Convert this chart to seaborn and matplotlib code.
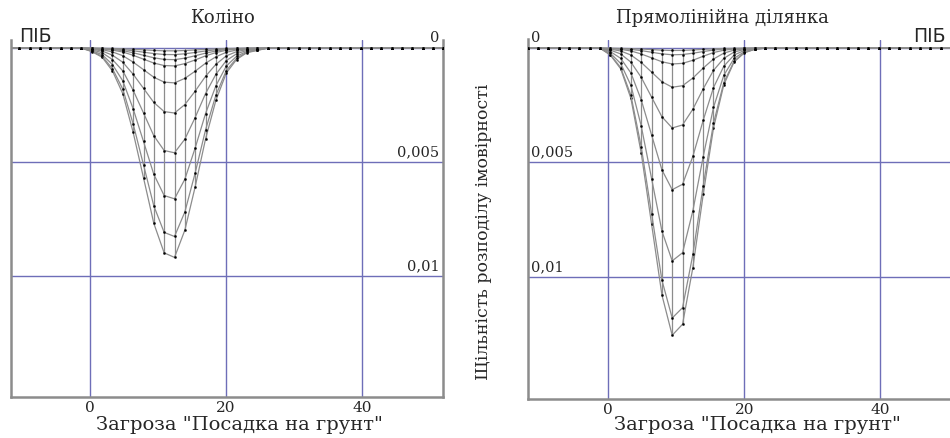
import matplotlib
matplotlib.use("Agg")
import matplotlib.pyplot as plt
import pandas as pd
import seaborn as sns

# mesh columns of the threat variable (Mathcad wireframe grid)
x_grid = [-11.84, -10.32, -8.80, -7.28, -5.77, -4.25, -2.73, -1.22,
          0.30, 1.82, 3.33, 4.85, 6.37, 7.89, 9.40, 10.92, 12.44, 13.96,
          15.47, 16.99, 18.51, 20.03, 21.54, 23.06, 24.58, 26.10, 27.61,
          29.13, 30.65, 32.17, 33.68, 35.20, 36.72, 38.24, 39.75, 41.27,
          42.79, 44.31, 45.82, 47.34, 48.86, 50.38, 51.89]

# depth of the deepest mesh curve, columns x = 0.30 ... 24.58 (zero elsewhere)
knee_profile = [0.00015, 0.0004, 0.0010, 0.0020, 0.0037, 0.0057, 0.0077, 0.0090,
                0.0092, 0.0080, 0.0061, 0.0040, 0.0023, 0.0011, 0.0005, 0.0002, 0.0001]
# relative depth of every mesh curve
knee_levels = [1.0, 0.90, 0.72, 0.50, 0.31, 0.166, 0.085, 0.055, 0.031, 0.013]

straight_profile = [0.0003, 0.0009, 0.0022, 0.0046, 0.0077, 0.0108, 0.01256, 0.01208,
                    0.0096, 0.0064, 0.0035, 0.0016, 0.0006, 0.0002, 0.00005, 0.0, 0.0]
straight_levels = [1.0, 0.94, 0.741, 0.493, 0.278, 0.136, 0.055, 0.023, 0.008]

panel_titles = ["Коліно", "Прямолінійна ділянка"]
y_ticks = [0, 0.005, 0.01]
y_tick_labels = ["0", "0,005", "0,01"]
x_ticks = [0, 20, 40]
x_label = 'Загроза "Посадка на грунт"'
y_label = "Щільність розподілу імовірності"

PAD_LEFT = 8
GRID_COLOR = "#6e6eb8"
WIRE_COLOR = "#8c8c8c"
SPINE_COLOR = "#8c8c8c"


def full_profile(profile):
    return [0.0] * PAD_LEFT + profile + [0.0] * (len(x_grid) - PAD_LEFT - len(profile))


def mesh_frame(profile, levels):
    prof = full_profile(profile)
    rows = []
    for j, lev in enumerate(levels):
        for x, p in zip(x_grid, prof):
            rows.append({"curve": j, "x": x, "density": lev * p})
    return pd.DataFrame(rows)


def draw_mesh(ax, profile, levels):
    df = mesh_frame(profile, levels)
    sns.lineplot(data=df, x="x", y="density", units="curve", estimator=None,
                 color=WIRE_COLOR, lw=0.9, marker="o", markersize=1.5,
                 markerfacecolor="black", markeredgecolor="black", markeredgewidth=0.3,
                 legend=False, ax=ax, zorder=3)
    prof = full_profile(profile)
    xs = [x for x, p in zip(x_grid, prof) if p > 0]
    ds = [p for p in prof if p > 0]
    ax.vlines(xs, 0, ds, color=WIRE_COLOR, lw=0.9, zorder=2)


sns.set_theme(style="white")
plt.rcParams["font.family"] = ["DejaVu Serif", "DejaVu Sans"]

fig = plt.figure(figsize=(9.5, 4.38), dpi=100)
W, H = 950, 438
ax1 = fig.add_axes([10.7 / W, 1 - 397.3 / H, 432 / W, 357.8 / H])
ax2 = fig.add_axes([528.3 / W, 1 - 399 / H, 433.6 / W, 359.5 / H])

for ax, prof, levels, side in [(ax1, knee_profile, knee_levels, "right"),
                               (ax2, straight_profile, straight_levels, "left")]:
    draw_mesh(ax, prof, levels)
    ax.set_xlim(-11.6, 51.8) if side == "right" else ax.set_xlim(-11.76, 52.0)
    ax.set_ylim(0.01535, -0.00038)
    ax.set_xticks(x_ticks)
    ax.set_xticklabels([str(t) for t in x_ticks], fontsize=11)
    ax.set_yticks(y_ticks)
    ax.set_yticklabels([])
    ax.tick_params(length=0, pad=3)
    ax.grid(True, color=GRID_COLOR, lw=1.0)
    ax.set_axisbelow(True)
    ax.set_xlabel("")
    ax.set_ylabel("")
    for s in ax.spines.values():
        s.set_color(SPINE_COLOR)
        s.set_linewidth(1.8)
    ax.spines["top"].set_visible(False)
    for val, lab in zip(y_ticks, y_tick_labels):
        if side == "right":
            ax.text(51.3, val - 0.00012, lab, ha="right", va="bottom", fontsize=10.5)
        else:
            ax.text(-11.3, val - 0.00012, lab, ha="left", va="bottom", fontsize=10.5)

ax1.text(-10.3, -0.0001, "ПІБ", family="DejaVu Sans", fontsize=13.5, ha="left", va="bottom")
ax2.text(49.6, -0.0001, "ПІБ", family="DejaVu Sans", fontsize=13.5, ha="right", va="bottom")

fig.text(222 / W, 1 - 18 / H, panel_titles[0], ha="center", va="center", fontsize=13)
fig.text(722 / W, 1 - 18 / H, panel_titles[1], ha="center", va="center", fontsize=13)
fig.text(239 / W, 1 - 425 / H, x_label, ha="center", va="center", fontsize=14)
fig.text(757 / W, 1 - 425 / H, x_label, ha="center", va="center", fontsize=14)
fig.text(483 / W, 1 - 232 / H, y_label, ha="center", va="center", rotation=90, fontsize=12.5)

fig.savefig("out.png", dpi=100)
